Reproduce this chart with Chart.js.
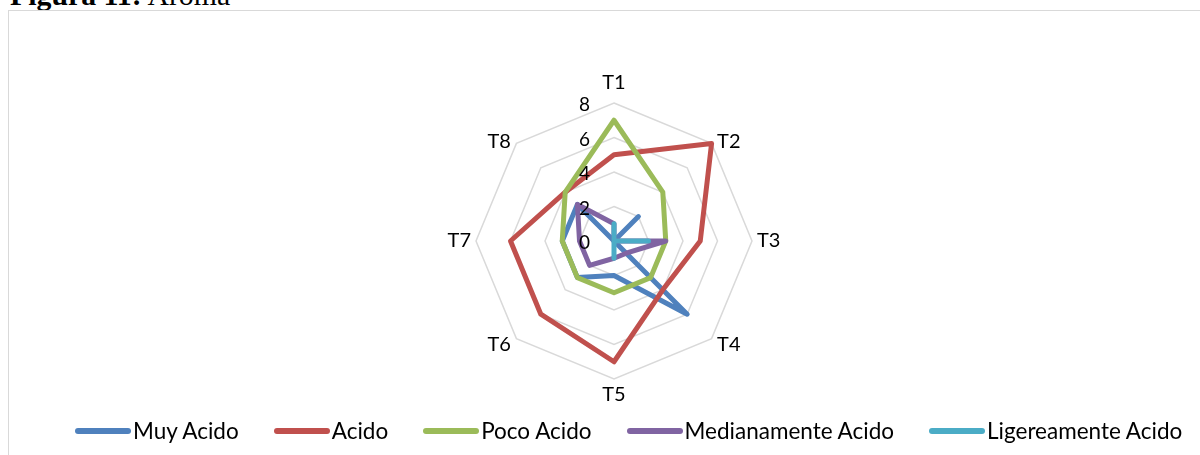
<!DOCTYPE html>
<html>
<head>
<meta charset="utf-8">
<script src="https://cdn.jsdelivr.net/npm/chart.js@4.4.1/dist/chart.umd.min.js"></script>
<style>
    body{margin:0;width:1200px;height:455px;overflow:hidden;background:#fff;position:relative;font-family:Lato, "Open Sans", sans-serif;}
    #title{position:absolute;left:10px;top:-20px;font:29.8px/1 "Liberation Serif","Times New Roman",serif;white-space:nowrap;color:#000;}
    #frame{position:absolute;left:8px;top:10px;width:1230px;height:480px;border:1px solid #d9d9d9;}
    #chartCanvas{position:absolute;left:0;top:0;}
    #legend{position:absolute;left:75px;top:417px;display:flex;gap:35px;font-size:22.5px;color:#000;}
    .item{display:flex;align-items:center;gap:2px;white-space:nowrap;}
    .mark{width:56px;height:6px;border-radius:3px;}
</style>
</head>
<body>
<div id="title"><b>Figura 11:</b> Aroma</div>
<div id="frame"></div>
<canvas id="chartCanvas" width="1200" height="455"></canvas>
<div id="legend"></div>
<script>
const categories = ['T1', 'T2', 'T3', 'T4', 'T5', 'T6', 'T7', 'T8'];
const seriesNames = ['Muy Acido', 'Acido', 'Poco Acido', 'Medianamente Acido', 'Ligereamente Acido'];
const muyAcido = [0, 2, 0, 6, 2, 3, 3, 3];
const acido = [5, 8, 5, 4, 7, 6, 6, 4];
const pocoAcido = [7, 4, 3, 3, 3, 3, 3, 4];
const medianamenteAcido = [1, 0, 3, 1, 1, 2, 2, 3];
const ligereamenteAcido = [1, 0, 2, 0, 1, 0, 0, 0];
const tickValues = [0, 2, 4, 6, 8];

const seriesColors = ['#4F81BD', '#C0504D', '#9BBB59', '#8064A2', '#4BACC6'];

document.addEventListener("DOMContentLoaded", ()=>{
    new aromaRadar();
});

class aromaRadar{
    #chart = null;

    constructor(){
        this.#createLegend();
        this.#createChart();
    }

    #createLegend(){
        const legend = document.getElementById('legend');
        seriesNames.forEach((name, i)=>{
            const item = document.createElement('span');
            item.className = 'item';
            item.innerHTML = `<span class="mark" style="background:${seriesColors[i]}"></span><span>${name}</span>`;
            legend.appendChild(item);
        });
    }

    #createChart(){
        const allValues = [muyAcido, acido, pocoAcido, medianamenteAcido, ligereamenteAcido];
        const datasets = allValues.map((vals, i)=>({
            label: seriesNames[i],
            data: vals,
            borderColor: seriesColors[i],
            backgroundColor: seriesColors[i],
            borderWidth: 5,
            borderJoinStyle: 'round',
            pointRadius: 0,
            fill: false,
            order: allValues.length - i   // later series on top, like excel
        }));

        // tick labels left of the axis and labels round the outside
        const labelPlugin = {
            id: 'excelLabels',
            afterDatasetsDraw(chart){
                const scale = chart.scales.r;
                const ctx = chart.ctx;
                const r = scale.drawingArea;
                ctx.save();
                ctx.fillStyle = '#000';
                ctx.textBaseline = 'middle';

                ctx.font = '19px Lato, "Open Sans", sans-serif';
                ctx.textAlign = 'right';
                tickValues.forEach(v=>{
                    const y = scale.yCenter - scale.getDistanceFromCenterForValue(v);
                    ctx.fillText(String(v), scale.xCenter - 24, y + 2);
                });

                ctx.font = '20px Lato, "Open Sans", sans-serif';
                categories.forEach((lab, i)=>{
                    const a = scale.getIndexAngle(i);
                    const sx = Math.sin(a), cy = Math.cos(a);
                    let dist, align, dx = 0, dy = 0;
                    if (Math.abs(sx) < 0.1){
                        dist = cy > 0 ? r + 20 : r + 16;
                        align = 'center';
                    } else if (Math.abs(cy) < 0.1){
                        dist = r + 5;
                        align = sx > 0 ? 'left' : 'right';
                    } else {
                        dist = r + 5;
                        align = sx > 0 ? 'left' : 'right';
                        dx = sx > 0 ? 2 : -2;
                        dy = 2;
                    }
                    const p = scale.getPointPosition(i, dist);
                    ctx.textAlign = align;
                    ctx.fillText(lab, p.x + dx, p.y + dy);
                });
                ctx.restore();
            }
        };

        const ctx = document.getElementById('chartCanvas').getContext('2d');
        this.#chart = new Chart(ctx, {
            type: 'radar',
            data: {labels: categories, datasets: datasets},
            options: {
                responsive: false,
                animation: false,
                layout: {padding: {left: 28, right: 0, top: 103, bottom: 76}},
                plugins: {
                    legend: {display: false},
                    tooltip: {enabled: false}
                },
                scales: {
                    r: {
                        min: 0,
                        max: 8,
                        ticks: {stepSize: 2, display: false},
                        pointLabels: {display: false},
                        angleLines: {display: false},
                        grid: {color: '#d9d9d9', lineWidth: 1.5}
                    }
                }
            },
            plugins: [labelPlugin]
        });
    }
}
</script>
</body>
</html>
